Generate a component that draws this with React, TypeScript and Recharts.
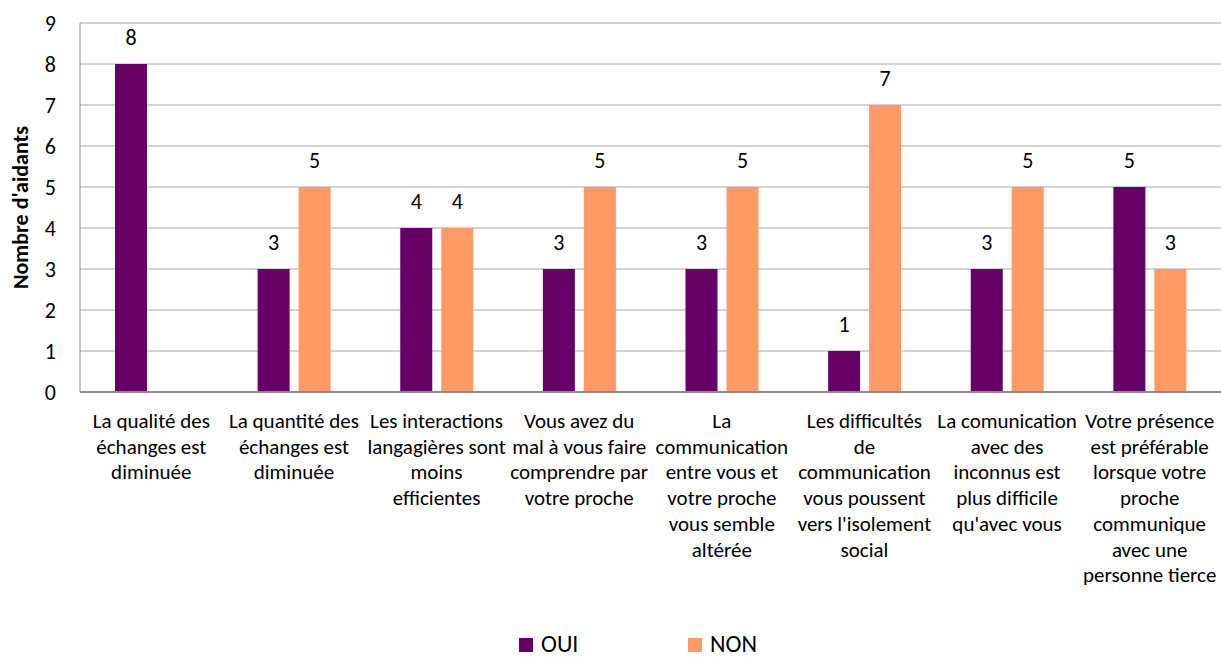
import { Bar, BarChart, CartesianGrid, LabelList, Legend, XAxis, YAxis } from 'recharts'

const categories: string[][] = [
  ['La qualité des', 'échanges est', 'diminuée'],
  ['La quantité des', 'échanges est', 'diminuée'],
  ['Les interactions', 'langagières sont', 'moins', 'efficientes'],
  ['Vous avez du', 'mal à vous faire', 'comprendre par', 'votre proche'],
  ['La', 'communication', 'entre vous et', 'votre proche', 'vous semble', 'altérée'],
  ['Les difficultés', 'de', 'communication', 'vous poussent', "vers l'isolement", 'social'],
  ['La comunication', 'avec des', 'inconnus est', 'plus difficile', "qu'avec vous"],
  ['Votre présence', 'est préférable', 'lorsque votre', 'proche', 'communique', 'avec une', 'personne tierce'],
]
const oui = [8, 3, 4, 3, 3, 1, 3, 5]
const non = [0, 5, 4, 5, 5, 7, 5, 3]
const yTicks = [0, 1, 2, 3, 4, 5, 6, 7, 8, 9]

const PURPLE = '#660066'
const ORANGE = '#FF9966'
const FONT = "Carlito, 'Liberation Sans', Arial, sans-serif"

const data = categories.map((_, i) => ({ key: String(i), oui: oui[i], non: non[i] }))

function CategoryTick({ x, y, payload }: { x?: number; y?: number; payload?: { value: string } }) {
  const lines = categories[Number(payload?.value ?? 0)] ?? []
  return (
    <text x={x} y={(y ?? 0) + 28} textAnchor="middle" fill="#000" fontSize={21} fontFamily={FONT}>
      {lines.map((line, i) => (
        <tspan key={i} x={x} dy={i === 0 ? 0 : 25.7}>
          {line}
        </tspan>
      ))}
    </text>
  )
}

function LegendBox() {
  const items = [
    { color: PURPLE, label: 'OUI', left: 519 },
    { color: ORANGE, label: 'NON', left: 688 },
  ]
  return (
    <svg width={1221} height={40} style={{ display: 'block' }}>
      {items.map((item) => (
        <g key={item.label}>
          <rect x={item.left} y={21} width={14} height={14} fill={item.color} />
          <text x={item.left + 22} y={35} fontSize={24} fontFamily={FONT} fill="#000">
            {item.label}
          </text>
        </g>
      ))}
    </svg>
  )
}

export default function App() {
  return (
    <div style={{ position: 'absolute', left: 0, top: 0, width: 1221, height: 657, background: '#fff', overflow: 'hidden' }}>
      <BarChart
        width={1221}
        height={657}
        data={data}
        margin={{ top: 23, right: 0, bottom: 0, left: 0 }}
        barGap={9}
        barSize={32}
      >
        <CartesianGrid vertical={false} stroke="#a6a6a6" />
        <XAxis
          dataKey="key"
          interval={0}
          height={225}
          tickLine={false}
          axisLine={{ stroke: '#8c8c8c', strokeWidth: 2 }}
          tick={<CategoryTick />}
        />
        <YAxis
          domain={[0, 9]}
          ticks={yTicks}
          width={80}
          tickLine={false}
          tickSize={0}
          tickMargin={24}
          axisLine={{ stroke: '#8c8c8c' }}
          tick={{ fill: '#000', fontSize: 22, fontFamily: FONT }}
          label={{
            value: "Nombre d'aidants",
            angle: -90,
            position: 'insideLeft',
            dx: 15,
            style: { textAnchor: 'middle', fontSize: 22, fontWeight: 'bold', fontFamily: FONT, fill: '#000' },
          }}
        />
        <Legend verticalAlign="bottom" height={40} content={<LegendBox />} />
        <Bar dataKey="oui" name="OUI" fill={PURPLE} isAnimationActive={false}>
          <LabelList dataKey="oui" position="top" offset={19} fill="#000" fontSize={22} fontFamily={FONT} />
        </Bar>
        <Bar dataKey="non" name="NON" fill={ORANGE} isAnimationActive={false}>
          <LabelList dataKey="non" position="top" offset={19} fill="#000" fontSize={22} fontFamily={FONT} />
        </Bar>
      </BarChart>
    </div>
  )
}
